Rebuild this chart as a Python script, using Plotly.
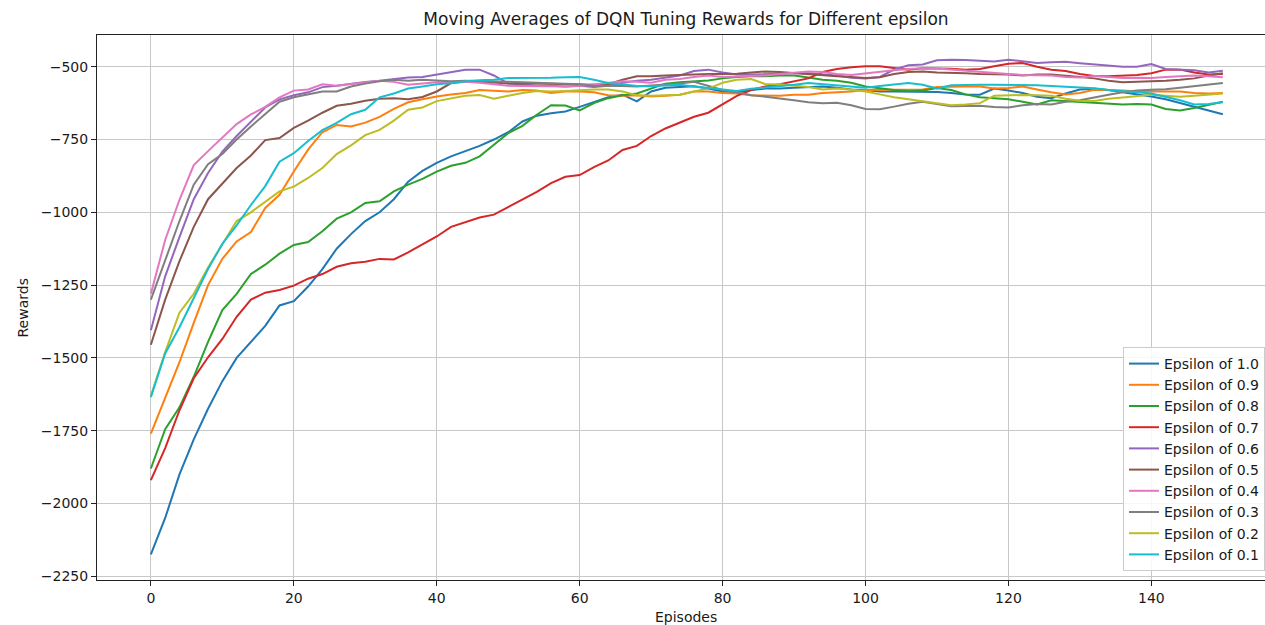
import plotly.graph_objects as go

EPISODES = list(range(0, 151, 2))

EPS_1_0 = [
    -2175, -2050, -1900, -1780, -1675, -1580, -1500, -1445, -1390, -1320,
    -1305, -1255, -1195, -1125, -1075, -1030, -1000, -955, -895, -858,
    -830, -808, -790, -772, -750, -725, -688, -668, -660, -654,
    -638, -622, -605, -596, -619, -585, -572, -570, -567, -575,
    -585, -588, -580, -575, -575, -572, -570, -568, -572, -578,
    -580, -585, -585, -585, -585, -587, -590, -595, -596, -575,
    -582, -590, -603, -608, -592, -578, -576, -580, -588, -595,
    -602, -612, -625, -638, -652, -663]

EPS_0_9 = [
    -1760, -1640, -1515, -1380, -1250, -1160, -1100, -1068, -985, -940,
    -860, -785, -725, -700, -705, -692, -672, -645, -622, -612,
    -602, -595, -590, -580, -582, -585, -580, -582, -590, -585,
    -585, -588, -598, -600, -598, -602, -600, -596, -585, -585,
    -590, -592, -598, -598, -600, -596, -596, -590, -588, -585,
    -580, -580, -578, -580, -578, -570, -568, -568, -568, -575,
    -573, -568, -578, -588, -595, -590, -579, -580, -582, -585,
    -585, -585, -585, -590, -592, -590]

EPS_0_8 = [
    -1880, -1745, -1670, -1565, -1445, -1336, -1280, -1212, -1180, -1142,
    -1112, -1102, -1065, -1022, -1000, -968, -962, -928, -905, -885,
    -860, -840, -830, -808, -768, -728, -703, -665, -632, -633,
    -650, -625, -608, -598, -592, -575, -558, -553, -550, -547,
    -540, -535, -533, -533, -530, -530, -537, -545, -548, -555,
    -568, -575, -580, -583, -582, -573, -580, -595, -605, -608,
    -612, -620, -630, -615, -618, -622, -625, -628, -630, -628,
    -630, -645, -650, -642, -632, -620]

EPS_0_7 = [
    -1920, -1810, -1680, -1570, -1498, -1435, -1359, -1300, -1276, -1267,
    -1252, -1228, -1212, -1187, -1175, -1170, -1160, -1162, -1138, -1110,
    -1083, -1050, -1035, -1018, -1008, -982, -955, -930, -900, -878,
    -872, -845, -822, -786, -772, -738, -712, -692, -672, -658,
    -628, -600, -580, -568, -560, -550, -540, -518, -508, -502,
    -498, -498, -505, -510, -505, -505, -507, -510, -508, -498,
    -490, -487, -500, -510, -515, -525, -532, -533, -530, -528,
    -522, -510, -510, -520, -527, -525]

EPS_0_6 = [
    -1405, -1220, -1085, -955, -865, -792, -738, -690, -640, -612,
    -598, -588, -570, -565, -558, -552, -548, -543, -537, -535,
    -527, -520, -510, -510, -530, -558, -560, -565, -565, -568,
    -565, -570, -565, -555, -548, -545, -538, -530, -515, -510,
    -520, -527, -527, -525, -522, -522, -522, -525, -530, -538,
    -540, -535, -510, -495, -492, -478, -476, -477, -480, -482,
    -476, -482, -487, -485, -483, -488, -492, -495, -500, -500,
    -491, -508, -510, -512, -520, -514]

EPS_0_5 = [
    -1455, -1300, -1168, -1050, -955, -900, -848, -805, -752, -745,
    -710, -685, -658, -634, -627, -617, -610, -608, -612, -604,
    -585, -556, -552, -552, -555, -558, -557, -558, -560, -560,
    -560, -562, -560, -545, -533, -533, -530, -528, -527, -525,
    -525, -524, -520, -516, -518, -522, -527, -530, -533, -535,
    -539, -536, -525, -518, -516, -520, -520, -522, -525, -525,
    -527, -530, -527, -527, -530, -535, -540, -548, -553, -552,
    -550, -548, -545, -540, -530, -522]

EPS_0_4 = [
    -1280, -1095, -957, -838, -790, -745, -697, -664, -638, -605,
    -582, -578, -560, -565, -560, -555, -548, -552, -562, -558,
    -553, -553, -552, -555, -560, -565, -566, -567, -568, -568,
    -566, -560, -555, -550, -552, -555, -545, -542, -535, -530,
    -535, -533, -533, -530, -525, -520, -516, -518, -525, -528,
    -522, -516, -512, -508, -505, -506, -510, -515, -518, -522,
    -525, -528, -530, -530, -535, -537, -532, -535, -539, -538,
    -539, -535, -532, -530, -533, -536]

EPS_0_3 = [
    -1300, -1165, -1030, -905, -835, -800, -750, -705, -662, -620,
    -605, -595, -585, -585, -568, -558, -550, -545, -548, -545,
    -548, -550, -548, -550, -550, -552, -553, -555, -557, -560,
    -560, -565, -565, -566, -568, -565, -562, -558, -552, -565,
    -580, -588, -598, -603, -608, -615, -622, -625, -624, -632,
    -645, -646, -637, -627, -620, -628, -636, -635, -634, -638,
    -640, -632, -628, -630, -620, -615, -605, -596, -588, -582,
    -579, -577, -572, -567, -562, -556]

EPS_0_2 = [
    -1630, -1480, -1345, -1280, -1190, -1110, -1030, -1000, -965, -928,
    -912, -882, -848, -800, -770, -735, -717, -685, -648, -640,
    -618, -610, -600, -597, -610, -600, -590, -583, -585, -583,
    -580, -578, -578, -585, -598, -600, -598, -596, -585, -575,
    -555, -545, -542, -560, -560, -565, -570, -578, -575, -578,
    -585, -595, -605, -612, -618, -625, -632, -630, -625, -600,
    -598, -597, -598, -600, -610, -617, -618, -610, -606, -600,
    -596, -600, -603, -600, -595, -592]

EPS_0_1 = [
    -1635, -1485, -1395, -1295, -1195, -1108, -1045, -975, -910, -826,
    -797, -755, -718, -693, -663, -648, -605, -592, -575, -568,
    -560, -557, -550, -546, -545, -539, -539, -539, -538, -536,
    -535, -545, -556, -560, -566, -567, -565, -562, -568, -573,
    -580, -583, -576, -572, -568, -562, -556, -560, -565, -570,
    -572, -566, -560, -556, -562, -575, -564, -562, -562, -562,
    -562, -562, -564, -566, -568, -570, -574, -580, -585, -588,
    -592, -603, -615, -630, -628, -622]

SERIES_NAMES = ["Epsilon of 1.0", "Epsilon of 0.9", "Epsilon of 0.8", "Epsilon of 0.7",
                "Epsilon of 0.6", "Epsilon of 0.5", "Epsilon of 0.4", "Epsilon of 0.3",
                "Epsilon of 0.2", "Epsilon of 0.1"]
SERIES_VALUES = [EPS_1_0, EPS_0_9, EPS_0_8, EPS_0_7, EPS_0_6,
                 EPS_0_5, EPS_0_4, EPS_0_3, EPS_0_2, EPS_0_1]
COLORS = ["#1f77b4", "#ff7f0e", "#2ca02c", "#d62728", "#9467bd",
          "#8c564b", "#e377c2", "#7f7f7f", "#bcbd22", "#17becf"]

X_TICKS = [0, 20, 40, 60, 80, 100, 120, 140]
Y_TICKS = [-2250, -2000, -1750, -1500, -1250, -1000, -750, -500]

FONT = "DejaVu Sans"
TXT = "#1a1a1a"

fig = go.Figure()
for name, vals, col in zip(SERIES_NAMES, SERIES_VALUES, COLORS):
    fig.add_trace(go.Scatter(x=EPISODES, y=vals, mode="lines", name=name,
                             line=dict(color=col, width=2)))

W, H = 1265, 625
L, R, T, B = 97, 0, 35, 45

fig.update_layout(
    width=W, height=H,
    margin=dict(l=L, r=R, t=T, b=B, autoexpand=False),
    paper_bgcolor="white", plot_bgcolor="white",
    font=dict(family=FONT, size=14, color=TXT),
    title=dict(text="Moving Averages of DQN Tuning Rewards for Different epsilon",
               x=686 / W, xref="container", xanchor="center",
               y=1 - 19 / H, yref="container", yanchor="middle",
               font=dict(family=FONT, size=17, color=TXT)),
    showlegend=True,
    legend=dict(x=1, xanchor="right", y=(580 - 571) / 545, yanchor="bottom",
                bgcolor="rgba(255,255,255,0.85)", bordercolor="#cccccc", borderwidth=1,
                font=dict(family=FONT, size=14, color=TXT),
                itemwidth=30, tracegroupgap=0),
    xaxis=dict(range=[-7.54, 155.9], tickvals=X_TICKS, showgrid=True,
               gridcolor="#c8c8c8", gridwidth=1, zeroline=False,
               showline=True, linecolor="#222222", linewidth=1, mirror=True,
               ticks="outside", ticklen=5, tickcolor="#222222",
               tickfont=dict(family=FONT, size=14, color=TXT), automargin=False),
    yaxis=dict(range=[-2263, -391], tickvals=Y_TICKS, showgrid=True,
               gridcolor="#c8c8c8", gridwidth=1, zeroline=False,
               showline=True, linecolor="#222222", linewidth=1, mirror=False,
               ticks="outside", ticklen=5, tickcolor="#222222",
               tickfont=dict(family=FONT, size=14, color=TXT), automargin=False),
    annotations=[
        dict(text="Episodes", xref="paper", yref="paper",
             x=(686 - L) / (W - L - R), y=(580 - 616.5) / 545,
             xanchor="center", yanchor="middle", showarrow=False,
             font=dict(family=FONT, size=14, color=TXT)),
        dict(text="Rewards", xref="paper", yref="paper",
             x=(22 - L) / (W - L - R), y=0.5, textangle=-90,
             xanchor="center", yanchor="middle", showarrow=False,
             font=dict(family=FONT, size=14, color=TXT)),
    ],
)

fig.write_html("out.html")
